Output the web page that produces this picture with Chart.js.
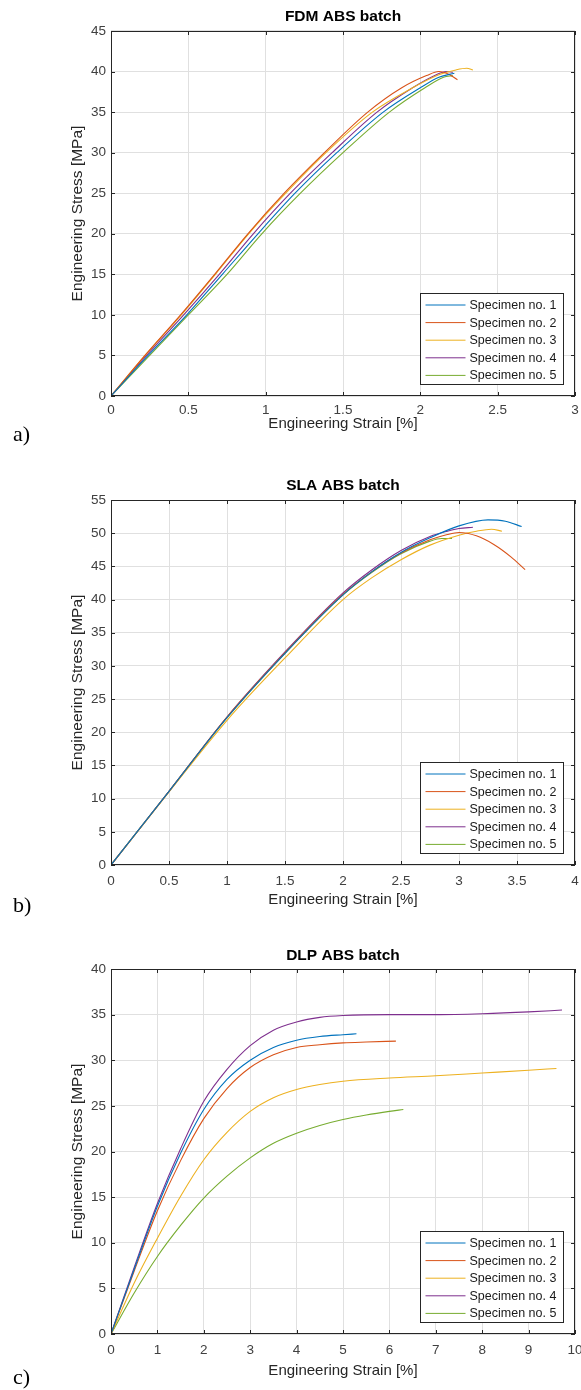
<!DOCTYPE html>
<html>
<head>
<meta charset="utf-8">
<script src="https://cdn.jsdelivr.net/npm/chart.js@4.4.1/dist/chart.umd.min.js"></script>
<style>
  body { margin: 0; background: #fff; width: 581px; height: 1390px; position: relative; overflow: hidden; }
  canvas { position: absolute; left: 0; }
  .tag { position: absolute; left: 13px; font-family: "Liberation Serif", "Times New Roman", serif; font-size: 22px; line-height: 22px; color: #000; }
</style>
</head>
<body>
<canvas id="fdmChart" width="581" height="440" style="top:0px"></canvas>
<canvas id="slaChart" width="581" height="470" style="top:440px"></canvas>
<canvas id="dlpChart" width="581" height="480" style="top:910px"></canvas>
<div class="tag" style="top:423px">a)</div>
<div class="tag" style="top:894px">b)</div>
<div class="tag" style="top:1366px">c)</div>
<script>
const specimenLabels = ['Specimen no. 1', 'Specimen no. 2', 'Specimen no. 3', 'Specimen no. 4', 'Specimen no. 5'];
const specimenColors = ['#0072BD', '#D95319', '#EDB120', '#7E2F8E', '#77AC30'];

// a) FDM ABS batch
const fdmStrain1 = [0, 0.24, 0.49, 0.72, 0.95, 1.19, 1.46, 1.76, 2.00, 2.12, 2.22];
const fdmStress1 = [0, 5, 10, 15, 20, 25, 30, 35, 38, 39.3, 39.8];
const fdmStrain2 = [0, 0.22, 0.45, 0.67, 0.885, 1.12, 1.38, 1.66, 1.88, 2.04, 2.12, 2.19, 2.24];
const fdmStress2 = [0, 5, 10, 15, 20, 25, 30, 35, 38, 39.5, 40.0, 39.6, 39.0];
const fdmStrain3 = [0, 0.22, 0.455, 0.675, 0.89, 1.13, 1.39, 1.69, 1.95, 2.12, 2.23, 2.30, 2.34];
const fdmStress3 = [0, 5, 10, 15, 20, 25, 30, 35, 38, 39.6, 40.2, 40.4, 40.2];
const fdmStrain4 = [0, 0.23, 0.47, 0.70, 0.92, 1.16, 1.43, 1.72, 1.95, 2.08, 2.17, 2.21];
const fdmStress4 = [0, 5, 10, 15, 20, 25, 30, 35, 38, 39.4, 40.0, 39.9];
const fdmStrain5 = [0, 0.25, 0.50, 0.75, 0.975, 1.225, 1.50, 1.80, 2.03, 2.15, 2.21];
const fdmStress5 = [0, 5, 10, 15, 20, 25, 30, 35, 38, 39.3, 39.5];

// b) SLA ABS batch
const slaStrain1 = [0, 0.5, 1.0, 1.5, 2.0, 2.25, 2.5, 2.75, 3.0, 3.25, 3.4, 3.54];
const slaStress1 = [0, 11.1, 22.2, 31.9, 40.7, 44.2, 47.1, 49.3, 51.1, 52.0, 51.8, 51.0];
const slaStrain2 = [0, 0.5, 1.0, 1.5, 2.0, 2.25, 2.5, 2.75, 2.9, 3.0, 3.15, 3.3, 3.45, 3.57];
const slaStress2 = [0, 11.1, 22.3, 32.0, 40.8, 44.2, 47.0, 49.0, 49.8, 50.1, 49.6, 48.3, 46.4, 44.5];
const slaStrain3 = [0, 0.5, 1.0, 1.5, 2.0, 2.25, 2.5, 2.75, 3.0, 3.15, 3.28, 3.37];
const slaStress3 = [0, 11.0, 21.8, 31.2, 40.0, 43.3, 46.0, 48.2, 49.7, 50.3, 50.6, 50.3];
const slaStrain4 = [0, 0.5, 1.0, 1.5, 2.0, 2.25, 2.5, 2.75, 2.9, 3.0, 3.12];
const slaStress4 = [0, 11.1, 22.3, 32.1, 41.0, 44.5, 47.4, 49.5, 50.3, 50.7, 50.9];
const slaStrain5 = [0, 0.5, 1.0, 1.5, 2.0, 2.25, 2.5, 2.75, 2.85, 2.94];
const slaStress5 = [0, 11.1, 22.2, 31.9, 40.7, 44.1, 46.9, 48.8, 49.2, 49.2];

// c) DLP ABS batch
const dlpStrain1 = [0, 0.5, 1, 1.5, 2, 2.5, 3, 3.5, 4, 4.5, 5, 5.29];
const dlpStress1 = [0, 7.1, 14.0, 19.8, 24.6, 27.9, 30.0, 31.4, 32.2, 32.6, 32.8, 32.9];
const dlpStrain2 = [0, 0.5, 1, 1.5, 2, 2.5, 3, 3.5, 4, 4.5, 5, 5.5, 6.14];
const dlpStress2 = [0, 6.9, 13.5, 19.0, 23.6, 26.9, 29.2, 30.6, 31.4, 31.7, 31.9, 32.0, 32.1];
const dlpStrain3 = [0, 0.5, 1, 1.5, 2, 2.5, 3, 3.5, 4, 4.5, 5, 6, 7, 8, 9, 9.6];
const dlpStress3 = [0, 5.6, 10.5, 15.1, 19.1, 22.1, 24.4, 25.9, 26.8, 27.35, 27.7, 28.05, 28.3, 28.6, 28.9, 29.1];
const dlpStrain4 = [0, 0.5, 1, 1.5, 2, 2.5, 3, 3.5, 4, 4.5, 5, 6, 7, 8, 9, 9.72];
const dlpStress4 = [0, 7.3, 14.3, 20.3, 25.5, 29.0, 31.6, 33.3, 34.2, 34.7, 34.9, 35.0, 35.0, 35.1, 35.3, 35.5];
const dlpStrain5 = [0, 0.5, 1, 1.5, 2, 2.5, 3, 3.5, 4, 4.5, 5, 5.5, 6, 6.3];
const dlpStress5 = [0, 4.5, 8.5, 11.9, 14.9, 17.3, 19.3, 20.9, 22.0, 22.85, 23.5, 24.0, 24.4, 24.6];

const FONT = '"Liberation Sans", Arial, Helvetica, sans-serif';

// MATLAB-like box: inward ticks on all four sides + legend inside, bottom right
const matlabAxes = {
    id: 'matlabAxes',
    afterDraw(chart) {
        const { ctx, chartArea: { left, right, top, bottom }, scales: { x, y } } = chart;
        ctx.save();
        ctx.strokeStyle = '#262626';
        ctx.lineWidth = 1;
        ctx.beginPath();
        x.ticks.forEach(t => {
            const px = Math.round(x.getPixelForValue(t.value)) + 0.5;
            ctx.moveTo(px, bottom); ctx.lineTo(px, bottom - 4);
            ctx.moveTo(px, top); ctx.lineTo(px, top + 4);
        });
        y.ticks.forEach(t => {
            const py = Math.round(y.getPixelForValue(t.value)) + 0.5;
            ctx.moveTo(left, py); ctx.lineTo(left + 4, py);
            ctx.moveTo(right, py); ctx.lineTo(right - 4, py);
        });
        ctx.stroke();
        ctx.strokeRect(Math.round(left) + 0.5, Math.round(top) + 0.5, Math.round(right - left) - 1, Math.round(bottom - top) - 1);

        // legend
        const w = 143, h = 91;
        const lx = Math.round(right - 12 - w) + 0.5;
        const ly = Math.round(bottom - 12 - h) + 0.5;
        ctx.fillStyle = '#fff';
        ctx.fillRect(lx, ly, w, h);
        ctx.strokeRect(lx, ly, w, h);
        ctx.font = '12.5px ' + FONT;
        ctx.textBaseline = 'middle';
        ctx.textAlign = 'left';
        chart.data.datasets.forEach((ds, i) => {
            const ry = ly + 11.5 + i * 17.6;
            ctx.strokeStyle = ds.borderColor;
            ctx.beginPath();
            ctx.moveTo(lx + 5, ry); ctx.lineTo(lx + 45, ry);
            ctx.stroke();
            ctx.fillStyle = '#1a1a1a';
            ctx.fillText(ds.label, lx + 49, ry + 0.5);
        });
        ctx.restore();
    }
};

function buildDatasets(strains, stresses) {
    return strains.map((s, i) => ({
        label: specimenLabels[i],
        data: s.map((v, j) => ({ x: v, y: stresses[i][j] })),
        borderColor: specimenColors[i],
        backgroundColor: specimenColors[i],
        borderWidth: 1.1,
        pointRadius: 0,
        showLine: true,
        cubicInterpolationMode: 'monotone'
    }));
}

const plainNumber = v => String(Math.round(v * 100) / 100);

function makeChart(id, opts) {
    const canvas = document.getElementById(id);
    const H = canvas.height;
    return new Chart(canvas.getContext('2d'), {
        type: 'scatter',
        data: { datasets: buildDatasets(opts.strains, opts.stresses) },
        options: {
            responsive: false,
            animation: false,
            devicePixelRatio: 1,
            layout: { padding: { left: 0, right: 6, top: 0, bottom: 0 } },
            plugins: {
                legend: { display: false },
                tooltip: { enabled: false },
                title: {
                    display: true,
                    fullSize: false,
                    text: opts.title,
                    color: '#000',
                    font: { family: FONT, size: 15.5, weight: 'bold', lineHeight: 1.2 },
                    padding: { top: opts.titleY - 9.3, bottom: opts.top - opts.titleY - 9.3 }
                }
            },
            scales: {
                x: {
                    type: 'linear',
                    min: 0, max: opts.xMax,
                    border: { display: false },
                    grid: { color: '#e0e0e0', drawTicks: false },
                    ticks: {
                        stepSize: opts.xStep, autoSkip: false, maxRotation: 0,
                        color: '#404040', padding: opts.tickPad,
                        font: { family: FONT, size: 13.5 },
                        callback: plainNumber
                    },
                    title: {
                        display: true, text: 'Engineering Strain [%]', color: '#262626',
                        font: { family: FONT, size: 15, lineHeight: 1.2 },
                        padding: { top: 0, bottom: H - opts.xTitleY - 9 }
                    },
                    afterFit(scale) {
                        scale.height = H - opts.bottom;
                        scale.paddingLeft = 0; scale.paddingRight = 0;
                        scale.paddingTop = 0; scale.paddingBottom = 0;
                    }
                },
                y: {
                    type: 'linear',
                    min: 0, max: opts.yMax,
                    border: { display: false },
                    grid: { color: '#e0e0e0', drawTicks: false },
                    ticks: {
                        stepSize: 5, autoSkip: false,
                        color: '#404040', padding: 5,
                        font: { family: FONT, size: 13.5 },
                        callback: plainNumber
                    },
                    title: {
                        display: true, text: 'Engineering Stress [MPa]', color: '#262626',
                        font: { family: FONT, size: 15.5, lineHeight: 1.2 },
                        padding: { top: 68, bottom: 0 }
                    },
                    afterFit(scale) {
                        scale.width = 111;
                        scale.paddingLeft = 0; scale.paddingRight = 0;
                        scale.paddingTop = 0; scale.paddingBottom = 0;
                    }
                }
            }
        },
        plugins: [matlabAxes]
    });
}

makeChart('fdmChart', {
    title: 'FDM ABS batch', xMax: 3, xStep: 0.5, yMax: 45,
    titleY: 17, top: 31, bottom: 396, tickPad: 6.5, xTitleY: 424,
    strains: [fdmStrain1, fdmStrain2, fdmStrain3, fdmStrain4, fdmStrain5],
    stresses: [fdmStress1, fdmStress2, fdmStress3, fdmStress4, fdmStress5]
});
makeChart('slaChart', {
    title: 'SLA ABS batch', xMax: 4, xStep: 0.5, yMax: 55,
    titleY: 46, top: 60, bottom: 425, tickPad: 8.5, xTitleY: 460,
    strains: [slaStrain1, slaStrain2, slaStrain3, slaStrain4, slaStrain5],
    stresses: [slaStress1, slaStress2, slaStress3, slaStress4, slaStress5]
});
makeChart('dlpChart', {
    title: 'DLP ABS batch', xMax: 10, xStep: 1, yMax: 40,
    titleY: 46, top: 59, bottom: 424, tickPad: 8.5, xTitleY: 461,
    strains: [dlpStrain1, dlpStrain2, dlpStrain3, dlpStrain4, dlpStrain5],
    stresses: [dlpStress1, dlpStress2, dlpStress3, dlpStress4, dlpStress5]
});
</script>
</body>
</html>
